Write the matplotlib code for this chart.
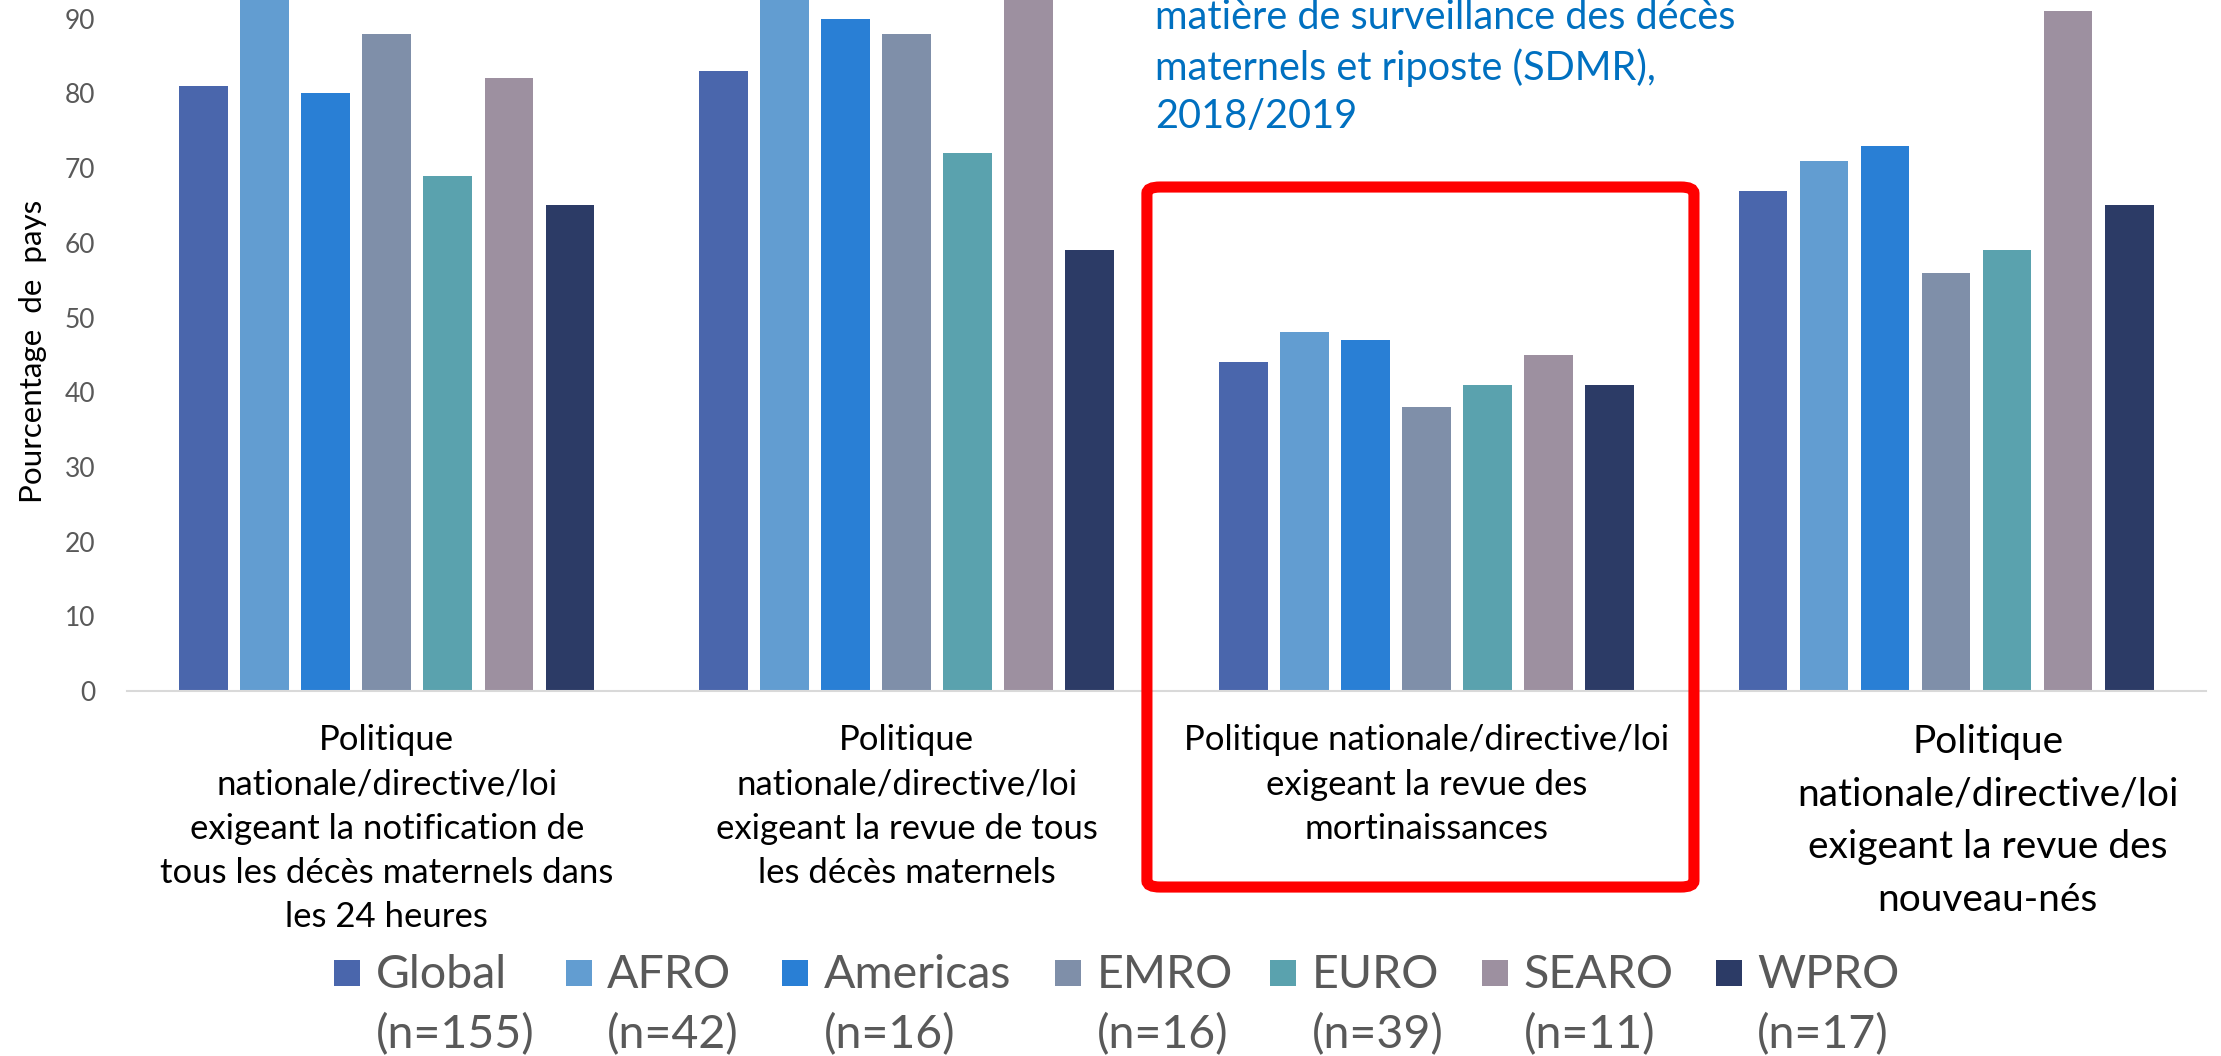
import matplotlib
matplotlib.use("Agg")
import matplotlib.pyplot as plt
import matplotlib.patches as mpatches
from matplotlib.legend_handler import HandlerPatch
import numpy as np

plt.rcParams['font.family'] = ['Lato', 'DejaVu Sans']

# data
regions = ['Global', 'AFRO', 'Americas', 'EMRO', 'EURO', 'SEARO', 'WPRO']
n_countries = [155, 42, 16, 16, 39, 11, 17]
colors = ['#4A66AC', '#629DD1', '#297FD5', '#7F8FA9', '#5AA2AE', '#9D90A0', '#2C3B66']
categories = [
    "Politique\nnationale/directive/loi\nexigeant la notification de\ntous les décès maternels dans\nles 24 heures",
    "Politique\nnationale/directive/loi\nexigeant la revue de tous\nles décès maternels",
    "Politique nationale/directive/loi\nexigeant la revue des\nmortinaissances",
    "Politique\nnationale/directive/loi\nexigeant la revue des\nnouveau-nés",
]
# percentage of countries, one list per region (4 categories)
global_vals = [81, 83, 44, 67]
afro_vals = [98, 98, 48, 71]
americas_vals = [80, 90, 47, 73]
emro_vals = [88, 88, 38, 56]
euro_vals = [69, 72, 41, 59]
searo_vals = [82, 100, 45, 91]
wpro_vals = [65, 59, 41, 65]
series = [global_vals, afro_vals, americas_vals, emro_vals, euro_vals, searo_vals, wpro_vals]

title_text = "matière de surveillance des décès\nmaternels et riposte (SDMR),\n2018/2019"

fig = plt.figure(figsize=(22.21, 10.56), dpi=100)
ax = fig.add_axes([0.0572, 0.3456, 0.9360, 0.6544])

x = np.arange(len(categories))
slot = 0.1174
width = 0.094
for j, (vals, col) in enumerate(zip(series, colors)):
    ax.bar(x + (j - 3) * slot, vals, width=width, color=col)

ax.set_xlim(-0.5, 3.5)
ax.set_ylim(0, 92.5)
ax.set_yticks(range(0, 100, 10))
ax.set_xticks([])
ax.tick_params(axis='y', length=0, pad=23, labelsize=19, labelcolor='#595959')
for s in ['top', 'right', 'left']:
    ax.spines[s].set_visible(False)
ax.spines['bottom'].set_color('#D9D9D9')
ax.spines['bottom'].set_linewidth(1.5)

ax.set_ylabel('Pourcentage  de  pays', fontsize=22.6, color='black')
ax.yaxis.set_label_coords(-0.0385, 0.492)

# category labels under each group (the last one is larger and shifted in the original)
label_sizes = [25, 25, 25, 28]
label_spacing = [1.47, 1.47, 1.47, 1.57]
label_dx = [0, 0, 0, 30]
for i, txt in enumerate(categories):
    ax.annotate(txt, xy=(i, 0), xycoords=('data', 'axes fraction'),
                xytext=(label_dx[i], -24), textcoords='offset points',
                ha='center', va='top', fontsize=label_sizes[i],
                linespacing=label_spacing[i], color='black')

# partial title in blue
fig.text(0.520, 0.9366, title_text, ha='left', va='center',
         fontsize=28.5, color='#0070C0', linespacing=1.38)

# red highlight box
box = mpatches.FancyBboxPatch((0.5164, 0.160), 0.2463, 0.6629,
                              boxstyle='round,pad=0,rounding_size=0.006',
                              transform=fig.transFigure, fill=False,
                              ec='#FF0000', lw=8, clip_on=False)
fig.add_artist(box)


def square_top(legend, orig_handle, xdescent, ydescent, width, height, fontsize):
    side = width
    return mpatches.Rectangle((-xdescent, -ydescent + height / 2 - side / 2 + 23.6),
                              side, side)


# legend entries are spread unevenly in the original, one small legend each
legend_x = [0.1504, 0.2548, 0.3521, 0.4750, 0.5718, 0.6673, 0.7726]
for r, n, c, lx in zip(regions, n_countries, colors, legend_x):
    leg = fig.legend([mpatches.Patch(facecolor=c)], [f"{r}\n(n={n})"],
                     loc='center left', bbox_to_anchor=(lx, 0.048),
                     frameon=False, prop={'size': 33.5}, labelcolor='#595959',
                     handlelength=0.56, handletextpad=0.33,
                     borderpad=0, borderaxespad=0,
                     handler_map={mpatches.Patch: HandlerPatch(patch_func=square_top)})
    for t in leg.get_texts():
        t.set_linespacing(1.49)

fig.savefig('out.png', dpi=100)
